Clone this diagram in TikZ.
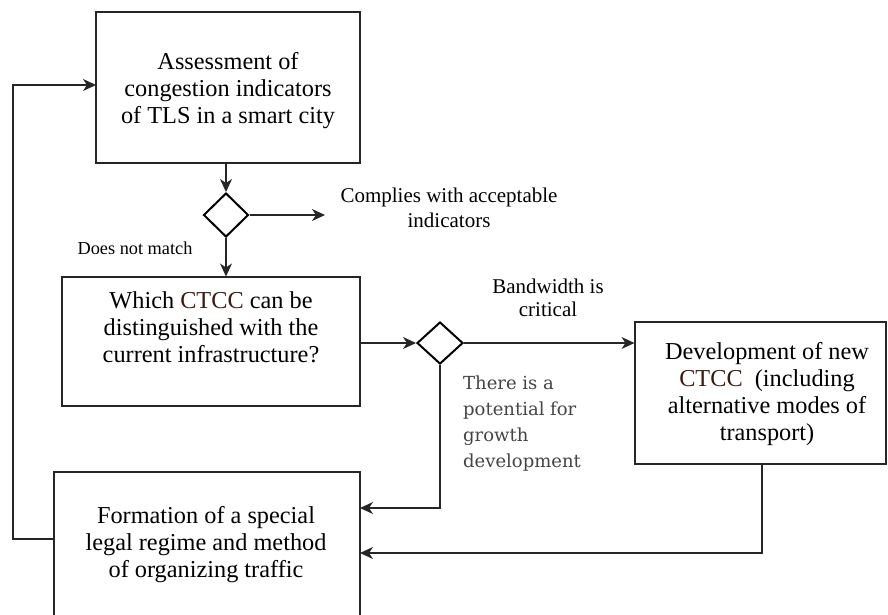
\documentclass[tikz,border=0pt]{standalone}
\usepackage{fontspec}
\setmainfont{Liberation Serif}
\newfontfamily\slabfont{DejaVu Serif}
\usetikzlibrary{arrows.meta,shapes.geometric}
\definecolor{ctcc}{HTML}{3B1A10}
\definecolor{slabgray}{HTML}{444444}
\tikzset{
  boxnode/.style={draw=black!85,line width=1.1pt,rectangle,inner sep=0pt},
  decision/.style={draw=black,line width=2pt,diamond,inner sep=0pt},
  boxtext/.style={align=center,font=\fontsize{24.3}{27}\selectfont},
  lbl/.style={align=center},
  arr/.style={draw=black!85,line width=1.1pt,-{Stealth[length=13pt,width=12pt,inset=4pt]}},
  ln/.style={draw=black!85,line width=1.1pt}
}
\begin{document}
\begin{tikzpicture}[x=1pt,y=-1pt]
\useasboundingbox (0,0) rectangle (888,614);
\clip (0,0) rectangle (888,614);
% boxes
\node[boxnode,minimum width=264pt,minimum height=151pt] (b1) at (228,87.5) {};
\node[boxtext] (t1) at (228,91) {Assessment of\\congestion indicators\\of TLS in a smart city};
\node[boxnode,minimum width=298pt,minimum height=129pt] (b2) at (211,341.5) {};
\node[boxtext] (t2) at (211,327) {Which \textcolor{ctcc}{CTCC} can be\\distinguished with the\\current infrastructure?};
\node[boxnode,minimum width=251pt,minimum height=142pt] (b3) at (760.5,393) {};
\node[boxtext] (t3) at (767,394) {Development of new\\\textcolor{ctcc}{CTCC} \ (including\\alternative modes of\\transport)};
\node[boxnode,minimum width=306pt,minimum height=180pt] (b4) at (207,562) {};
\node[boxtext] (t4) at (206,545) {Formation of a special\\legal regime and method\\of organizing traffic};
% decisions
\node[decision,minimum width=45pt,minimum height=44pt] (d1) at (226,215) {};
\node[decision,minimum width=46pt,minimum height=42pt] (d2) at (440,343) {};
% coordinates
\coordinate (c1) at (325,215);
\coordinate (b4w) at (54,539);
\coordinate (lt) at (13,539);
\coordinate (lb) at (13,85);
\coordinate (b1w) at (96,85);
\coordinate (d2c) at (440,508);
\coordinate (b4r1) at (360,508);
\coordinate (b3c) at (762,553);
\coordinate (b4r2) at (360,553);
% connectors
\draw[arr] (b1.south -| d1.north) -- (d1.north);
\draw[arr] (d1.east) -- (c1);
\draw[arr] (d1.south) -- (b2.north -| d1.south);
\draw[arr] (b2.east |- d2.west) -- (d2.west);
\draw[arr] (d2.east) -- (b3.west |- d2.east);
\draw[arr] (d2.south) -- (d2c) -- (b4r1);
\draw[arr] (b3.south -| b3c) -- (b3c) -- (b4r2);
\draw[arr] (b4w) -- (lt) -- (lb) -- (b1w);
% labels
\node[lbl,font=\fontsize{21}{25}\selectfont] (l1) at (449,208) {Complies with acceptable\\indicators};
\node[lbl,font=\fontsize{18.3}{20}\selectfont] (l2) at (135,248) {Does not match};
\node[lbl,font=\fontsize{21}{23}\selectfont] (l3) at (548,298) {Bandwidth is\\critical};
\node[align=left,anchor=north west,text=slabgray,font=\slabfont\fontsize{18}{26}\selectfont,inner sep=0pt] (l4) at (463,376) {There is a\\potential for\\growth\\development};
\end{tikzpicture}
\end{document}
